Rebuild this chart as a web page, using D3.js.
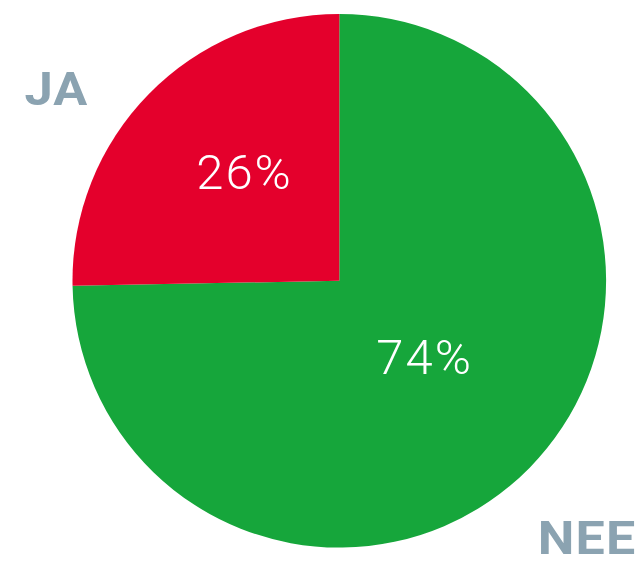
<!DOCTYPE html>
<html><head><meta charset="utf-8">
<script src="https://cdn.jsdelivr.net/npm/d3@7"></script>
<style>html,body{margin:0;padding:0;background:#fff;}svg{display:block;}</style>
</head><body>
<svg id="chart" width="644" height="562"></svg>
<script>
const categories = ["NEE", "JA"];
const values = [74.7, 25.3];
const pctLabels = ["74%", "26%"];
const colors = ["#16a63b", "#e4002c"];

const W = 644, H = 562;
const cx = 339.3, cy = 280.8, R = 266.8;
const svg = d3.select("#chart");
const g = svg.append("g").attr("transform", `translate(${cx},${cy})`);

const pie = d3.pie().sort(null).value(d => d.v);
const data = pie(categories.map((c, i) => ({c, v: values[i], l: pctLabels[i], col: colors[i]})));
const arc = d3.arc().innerRadius(0).outerRadius(R);

g.selectAll("path").data(data).join("path")
  .attr("d", arc).attr("fill", d => d.data.col);

// label position: fraction of radius along a direction (degrees clockwise from top)
const labelPos = [{r: 0.425, a: 132}, {r: 0.545, a: 318.8}];
g.selectAll("text.pct").data(data).join("text")
  .attr("class", "pct")
  .attr("transform", (d, i) => {
    const p = labelPos[i], rad = p.a * Math.PI / 180;
    return `translate(${R * p.r * Math.sin(rad) + 1},${-R * p.r * Math.cos(rad)})`;
  })
  .attr("text-anchor", "middle").attr("dy", "0.36em")
  .attr("fill", "#fff")
  .style("font-family", "Roboto, 'DejaVu Sans', sans-serif")
  .style("font-weight", 300)
  .style("font-size", "49px")
  .style("letter-spacing", "2px")
  .text(d => d.data.l);

const nameStyle = sel => sel.attr("fill", "#8ba3b1")
  .style("font-family", "Roboto, 'Liberation Sans', sans-serif")
  .style("font-weight", 700).style("font-size", "46px")
  .style("letter-spacing", "1px")
  .attr("text-anchor", "middle");
svg.append("text").attr("transform", "translate(56.5,105) scale(1.1,1)").text(categories[1]).call(nameStyle);
svg.append("text").attr("transform", "translate(587,554) scale(1.13,1)").text(categories[0]).call(nameStyle);
</script>
</body></html>
